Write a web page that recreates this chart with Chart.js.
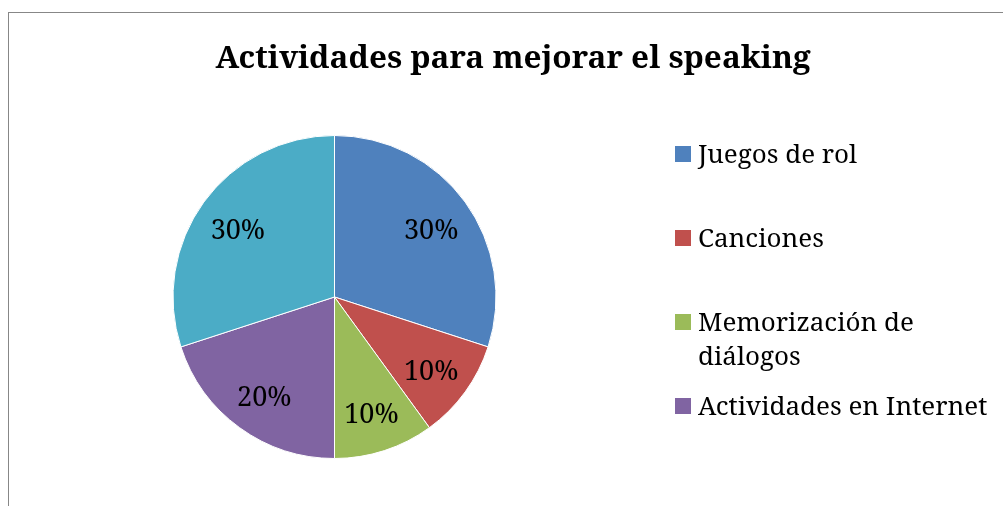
<!DOCTYPE html>
<html>
<head>
<meta charset="utf-8">
<script src="https://cdn.jsdelivr.net/npm/chart.js@4"></script>
<style>
  html,body{margin:0;padding:0;background:#fff;overflow:hidden}
  #wrap{position:relative;width:1003px;height:506px}
  #frame{position:absolute;left:8px;top:12px;width:1100px;height:600px;border:1.5px solid #878787;box-sizing:border-box}
  canvas{position:absolute;left:0;top:0}
</style>
</head>
<body>
<div id="wrap">
  <div id="frame"></div>
  <canvas id="pie" width="1003" height="506"></canvas>
</div>
<script>
const title = 'Actividades para mejorar el speaking';
const labels = ['Juegos de rol', 'Canciones', 'Memorización de diálogos', 'Actividades en Internet', 'Otras'];
const values = [30, 10, 10, 20, 30];
const colors = ['#4F81BD', '#C0504D', '#9BBB59', '#8064A2', '#4BACC6'];
const shownInLegend = 4; // the fifth entry falls outside the picture

const FONT = '"Noto Serif","DejaVu Serif",serif';

// title drawn over the whole width
const titlePlugin = {
  id: 'titleText',
  afterDraw(chart){
    const c = chart.ctx;
    c.save();
    c.font = 'bold 31.5px ' + FONT;
    c.fillStyle = '#000';
    c.textAlign = 'center';
    c.textBaseline = 'alphabetic';
    c.fillText(title, 513, 68);
    c.restore();
  }
};

// percentages inside slices
const sliceLabels = {
  id: 'sliceLabels',
  afterDatasetsDraw(chart){
    const c = chart.ctx;
    const meta = chart.getDatasetMeta(0);
    const total = values.reduce((a,b)=>a+b,0);
    c.save();
    c.font = '27px ' + FONT;
    c.fillStyle = '#000';
    c.textAlign = 'center';
    c.textBaseline = 'middle';
    meta.data.forEach((arc, i)=>{
      const p = arc.getProps(['x','y','startAngle','endAngle','outerRadius']);
      const mid = (p.startAngle + p.endAngle)/2;
      const r = p.outerRadius * 0.74;
      c.fillText(Math.round(values[i]/total*100) + '%', p.x + Math.cos(mid)*r, p.y + Math.sin(mid)*r + 5);
    });
    c.restore();
  }
};

// legend on the right, wrapping long names
const sideLegend = {
  id: 'sideLegend',
  afterDraw(chart){
    const c = chart.ctx;
    c.save();
    c.font = '26px ' + FONT;
    c.textBaseline = 'alphabetic';
    const x0 = 675, box = 16, step = 84, maxW = 300;
    for(let i=0;i<shownInLegend;i++){
      const top = 146 + i*step;
      c.fillStyle = colors[i];
      c.fillRect(x0, top, box, box);
      c.fillStyle = '#000';
      // simple word wrap
      const words = labels[i].split(' ');
      const lines = [];
      let line = '';
      words.forEach(w=>{
        const t = line ? line + ' ' + w : w;
        if(c.measureText(t).width > maxW && line){ lines.push(line); line = w; }
        else line = t;
      });
      lines.push(line);
      lines.forEach((ln, k)=> c.fillText(ln, x0 + 23, top + 17 + k*34));
    }
    c.restore();
  }
};

new Chart(document.getElementById('pie'), {
  type: 'pie',
  data: {
    labels: labels,
    datasets: [{
      data: values,
      backgroundColor: colors,
      borderColor: '#ffffff',
      borderWidth: 1
    }]
  },
  options: {
    responsive: false,
    animation: false,
    layout: { padding: { left: 172, right: 506, top: 135, bottom: 47 } },
    plugins: { legend: { display: false }, tooltip: { enabled: false }, title: { display: false } }
  },
  plugins: [titlePlugin, sliceLabels, sideLegend]
});
</script>
</body>
</html>
